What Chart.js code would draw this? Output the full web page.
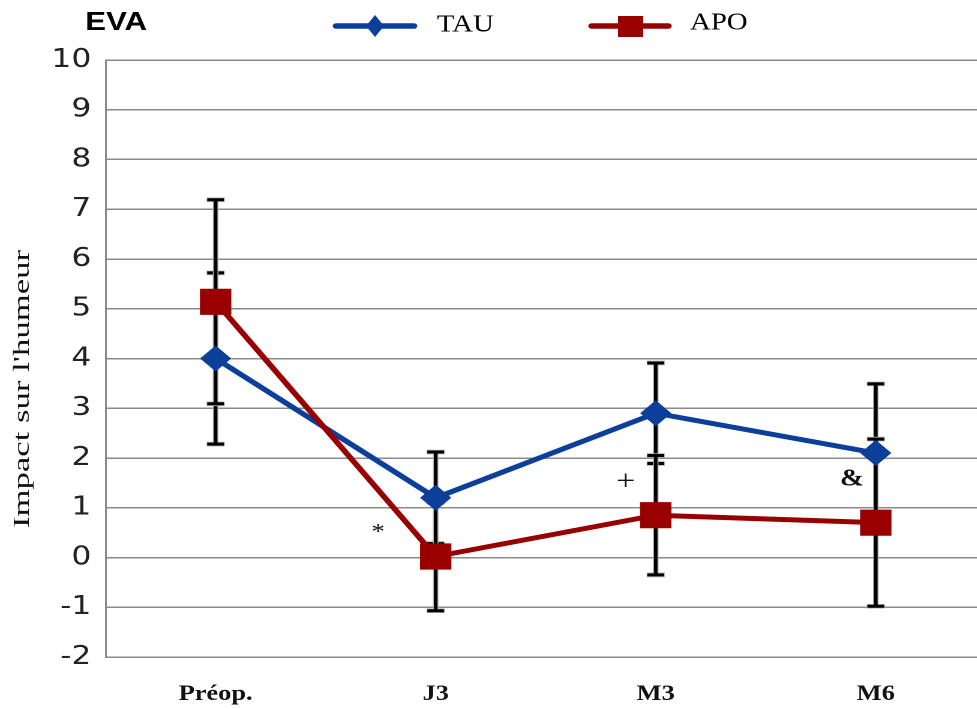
<!DOCTYPE html>
<html>
<head>
<meta charset="utf-8">
<script src="https://cdn.jsdelivr.net/npm/chart.js@4/dist/chart.umd.min.js"></script>
<style>
  html, body { margin: 0; padding: 0; background: #fff; overflow: hidden; }
  #wrap { width: 977px; height: 709px; overflow: hidden; }
  #chart { transform: scaleX(1.2); transform-origin: 0 0; }
</style>
</head>
<body>
<div id="wrap"><canvas id="chart" width="840" height="709"></canvas></div>
<script>
const categories = ['Préop.', 'J3', 'M3', 'M6'];
const tauValues = [4.0, 1.2, 2.9, 2.1];
const tauErr = [1.72, 0.92, 1.01, 1.39];
const apoValues = [5.14, 0.02, 0.85, 0.70];
const apoErr = [2.05, 1.09, 1.2, 1.68];
const yTicks = [-2, -1, 0, 1, 2, 3, 4, 5, 6, 7, 8, 9, 10];
const marks = ['*', '+', '&'];
const markCats = [1, 2, 3];
const markValues = [0.5, 1.5, 1.57];

const blue = '#0b3f9a';
const red = '#990000';

// error bars behind the lines
const errorBars = {
  id: 'errorBars',
  beforeDatasetsDraw(chart) {
    const ctx = chart.ctx;
    const y = chart.scales.y;
    const errs = [tauErr, apoErr];
    const vals = [tauValues, apoValues];
    chart.data.datasets.forEach((ds, d) => {
      const meta = chart.getDatasetMeta(d);
      meta.data.forEach((pt, i) => {
        const top = y.getPixelForValue(vals[d][i] + errs[d][i]);
        const bot = y.getPixelForValue(vals[d][i] - errs[d][i]);
        const x = pt.x;
        [['#b0b0b0', 4.6, 7.5], ['#000', 3, 7]].forEach(([c, w, half]) => {
          ctx.save();
          ctx.strokeStyle = c;
          ctx.lineWidth = w;
          ctx.beginPath();
          ctx.moveTo(x, top); ctx.lineTo(x, bot);
          ctx.moveTo(x - half, top); ctx.lineTo(x + half, top);
          ctx.moveTo(x - half, bot); ctx.lineTo(x + half, bot);
          ctx.stroke();
          ctx.restore();
        });
      });
    });
  }
};

const extras = {
  id: 'extras',
  afterDraw(chart) {
    const ctx = chart.ctx;
    const x = chart.scales.x, y = chart.scales.y;
    ctx.save();
    // significance marks
    ctx.fillStyle = '#111';
    ctx.textAlign = 'center';
    ctx.textBaseline = 'middle';
    marks.forEach((m, i) => {
      const offs = [-48, -25, -20][i];
      const f = ['22px', '28px', 'bold 24px'][i];
      ctx.font = f + ' "Liberation Serif"';
      ctx.fillText(m, x.getPixelForValue(markCats[i]) + offs, y.getPixelForValue(markValues[i]));
    });

    // EVA
    ctx.textAlign = 'left';
    ctx.font = 'bold 26px "Liberation Sans"';
    ctx.fillStyle = '#000';
    ctx.fillText('EVA', 71, 23);

    // legend
    ctx.lineCap = 'round';
    ctx.lineWidth = 5.5;
    ctx.strokeStyle = blue;
    ctx.beginPath(); ctx.moveTo(280, 26); ctx.lineTo(345, 26); ctx.stroke();
    ctx.fillStyle = blue;
    ctx.beginPath();
    ctx.moveTo(312.5, 15); ctx.lineTo(320, 26); ctx.lineTo(312.5, 37); ctx.lineTo(305, 26);
    ctx.closePath(); ctx.fill();
    ctx.strokeStyle = red;
    ctx.beginPath(); ctx.moveTo(493, 26); ctx.lineTo(557, 26); ctx.stroke();
    ctx.fillStyle = red;
    ctx.fillRect(515, 16, 21, 21);
    ctx.fillStyle = '#000';
    ctx.font = '24px "Liberation Serif"';
    ctx.fillText('TAU', 364, 25);
    ctx.fillText('APO', 575, 23);

    // y title
    ctx.translate(19, 389);
    ctx.rotate(-Math.PI / 2);
    ctx.font = '19px "Liberation Serif"';
    const t = "Impact sur l'humeur";
    const w = ctx.measureText(t).width;
    ctx.scale(278 / w, 1);
    ctx.textAlign = 'center';
    ctx.fillStyle = '#111';
    ctx.fillText(t, 0, 0);
    ctx.restore();
  }
};

new Chart(document.getElementById('chart'), {
  type: 'line',
  data: {
    labels: categories,
    datasets: [{
      label: 'TAU',
      data: tauValues,
      borderColor: blue,
      backgroundColor: blue,
      borderWidth: 5,
      pointStyle: 'rectRot',
      pointRadius: 13,
      pointBorderWidth: 0,
      order: 1
    }, {
      label: 'APO',
      data: apoValues,
      borderColor: red,
      backgroundColor: red,
      borderWidth: 5,
      pointStyle: 'rect',
      pointRadius: 18.5,
      pointBorderWidth: 0,
      order: 0
    }]
  },
  options: {
    responsive: false,
    animation: false,
    devicePixelRatio: 2,
    layout: { padding: { top: 60, right: 2, left: 0, bottom: 0 } },
    scales: {
      x: {
        offset: true,
        grid: { display: false },
        border: { display: false },
        ticks: {
          font: { family: 'Liberation Serif', size: 22, weight: 'bold' },
          color: '#111',
          padding: 16,
          maxRotation: 0
        },
        afterFit: s => { s.height = 52; }
      },
      y: {
        min: -2,
        max: 10,
        afterBuildTicks: s => { s.ticks = yTicks.map(v => ({ value: v })); },
        grid: { color: '#8a8a8a', lineWidth: 1.5, drawTicks: false },
        border: { color: '#8a8a8a', width: 1.5 },
        ticks: {
          font: { family: 'DejaVu Sans', size: 26 },
          color: '#222',
          padding: 12
        },
        afterFit: s => { s.width = 88; }
      }
    },
    plugins: {
      legend: { display: false },
      tooltip: { enabled: false }
    }
  },
  plugins: [errorBars, extras]
});
</script>
</body>
</html>
